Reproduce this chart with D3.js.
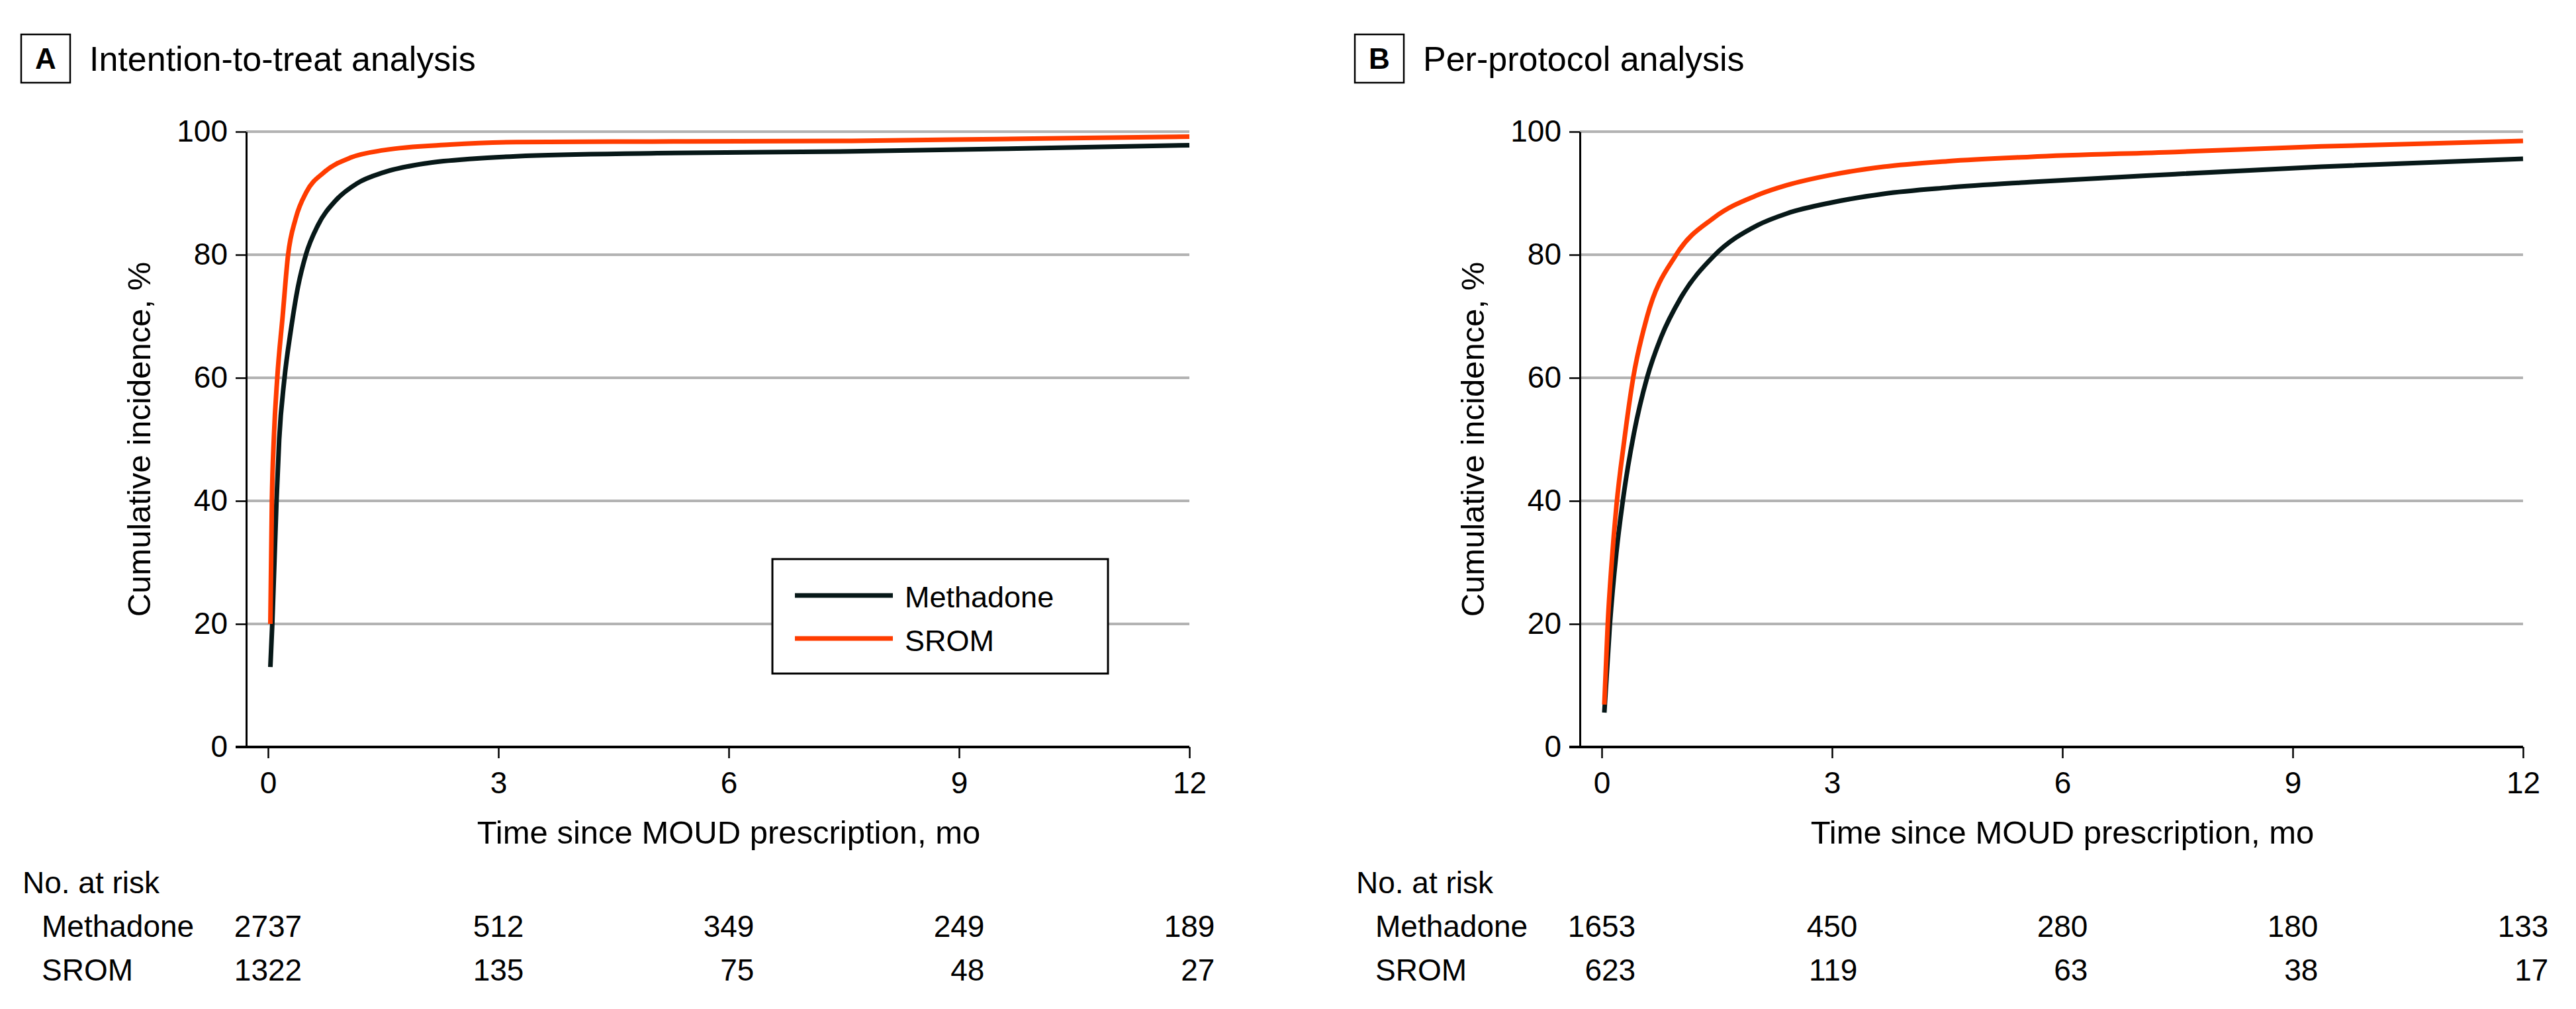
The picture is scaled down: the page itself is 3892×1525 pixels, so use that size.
<!DOCTYPE html>
<html>
<head>
<meta charset="utf-8">
<script src="https://cdn.jsdelivr.net/npm/d3@7"></script>
<style>
body { margin: 0; background: #fff; }
svg text { font-family: "Liberation Sans", Arial, sans-serif; fill: #000; }
</style>
</head>
<body>
<svg id="chart" width="3892" height="1525"></svg>
<script>
// tick labels
var xTicks = [0, 3, 6, 9, 12];
var yTicks = [0, 20, 40, 60, 80, 100];
var groups = ["Methadone", "SROM"];
var colors = ["#071818", "#ff3c00"];

// A: intention-to-treat (months, cumulative incidence %)
var ittMethTime = [0.03, 0.055, 0.11, 0.145, 0.21, 0.30, 0.39, 0.49, 0.65, 0.88, 1.16, 1.51, 2.08, 2.66, 3.23, 5.07, 7.6, 9.5, 12];
var ittMethPct = [13, 20, 40, 50, 59.5, 68, 74.8, 79.9, 84.8, 88.8, 91.6, 93.4, 94.9, 95.6, 96.0, 96.5, 96.8, 97.2, 97.8];
var ittSromTime = [0.03, 0.05, 0.075, 0.12, 0.19, 0.26, 0.36, 0.50, 0.73, 1.08, 1.51, 2.37, 3.23, 5.0, 7.6, 9.5, 12];
var ittSromPct = [20, 40, 50, 60, 70, 79.9, 85.9, 90.2, 93.4, 95.8, 97.0, 97.9, 98.3, 98.4, 98.5, 98.8, 99.2];
var ittRiskMeth = [2737, 512, 349, 249, 189];
var ittRiskSrom = [1322, 135, 75, 48, 27];

// B: per-protocol
var ppMethTime = [0.034, 0.106, 0.19, 0.28, 0.42, 0.59, 0.77, 1.03, 1.46, 2.03, 2.41, 3.0, 3.67, 4.5, 5.57, 7.47, 9.37, 12];
var ppMethPct = [5.6, 19.9, 31.5, 40.5, 51, 60, 66.5, 73, 79.8, 84.8, 86.7, 88.5, 89.9, 90.9, 91.8, 93.1, 94.3, 95.6];
var ppSromTime = [0.034, 0.078, 0.13, 0.19, 0.29, 0.41, 0.59, 0.97, 1.46, 2.03, 2.41, 3.0, 3.67, 4.5, 5.57, 7.47, 9.37, 12];
var ppSromPct = [6.9, 19.9, 30, 39, 49.5, 60, 69.9, 80, 86, 89.7, 91.3, 93.0, 94.3, 95.2, 95.9, 96.7, 97.6, 98.5];
var ppRiskMeth = [1653, 450, 280, 180, 133];
var ppRiskSrom = [623, 119, 63, 38, 17];

function zip(ts, vs) {
  return ts.map(function (t, i) { return { t: t, v: vs[i] }; });
}

var svg = d3.select("#chart");

// offsets
var axisX = 372;
var plotTop = 199;
var plotBottom = 1129;

var x = d3.scaleLinear().domain([0, 12]).range([405, 1797]);
var y = d3.scaleLinear().domain([0, 100]).range([plotBottom, plotTop]);

function drawPanel(offsetX, letter, title, series, risk, showLegend) {
  var g = svg.append("g").attr("transform", "translate(" + offsetX + ",0)");

  // panel label
  g.append("rect")
    .attr("x", 32).attr("y", 52).attr("width", 74).attr("height", 73)
    .attr("fill", "none").attr("stroke", "#000").attr("stroke-width", 2.5);
  g.append("text")
    .attr("x", 69).attr("y", 104)
    .attr("text-anchor", "middle")
    .style("font-size", "44px").style("font-weight", "bold")
    .text(letter);
  g.append("text")
    .attr("x", 135).attr("y", 107)
    .style("font-size", "52px")
    .text(title);

  // gridlines
  g.selectAll(".grid")
    .data(yTicks.filter(function (d) { return d > 0; }))
    .enter()
    .append("line")
    .attr("x1", axisX).attr("x2", x(12))
    .attr("y1", function (d) { return y(d); })
    .attr("y2", function (d) { return y(d); })
    .attr("stroke", "#b3b3b3").attr("stroke-width", 4);

  // axis y
  var yAxis = g.append("g")
    .attr("transform", "translate(" + axisX + ",0)")
    .call(d3.axisLeft(y).tickValues(yTicks).tickSize(16).tickSizeOuter(0).tickPadding(12));
  yAxis.select(".domain").attr("stroke", "#000").attr("stroke-width", 3);
  yAxis.selectAll(".tick line").attr("stroke", "#000").attr("stroke-width", 2.5);
  yAxis.selectAll(".tick text").style("font-size", "46px").attr("font-family", null);

  // axis x
  var xAxis = g.append("g")
    .attr("transform", "translate(0," + y(0) + ")")
    .call(d3.axisBottom(x).tickValues(xTicks).tickSize(17).tickSizeOuter(0).tickPadding(20));
  xAxis.select(".domain").remove();
  xAxis.selectAll(".tick line").attr("stroke", "#000").attr("stroke-width", 2.5);
  xAxis.selectAll(".tick text").style("font-size", "46px").attr("font-family", null);
  g.append("line")
    .attr("x1", axisX - 16).attr("x2", x(12))
    .attr("y1", y(0)).attr("y2", y(0))
    .attr("stroke", "#000").attr("stroke-width", 4);

  // axis titles
  g.append("text")
    .attr("transform", "translate(" + (axisX - 145) + "," + (plotTop + plotBottom) / 2 + ") rotate(-90)")
    .attr("text-anchor", "middle")
    .style("font-size", "49px")
    .text("Cumulative incidence, %");
  g.append("text")
    .attr("x", (x(0) + x(12)) / 2).attr("y", 1275)
    .attr("text-anchor", "middle")
    .style("font-size", "49px")
    .text("Time since MOUD prescription, mo");

  // curves
  var line = d3.line()
    .x(function (d) { return x(d.t); })
    .y(function (d) { return y(d.v); })
    .curve(d3.curveMonotoneX);
  g.selectAll(".curve")
    .data(series)
    .enter()
    .append("path")
    .attr("d", function (d) { return line(d); })
    .attr("fill", "none")
    .attr("stroke", function (d, i) { return colors[i]; })
    .attr("stroke-width", 7);

  // legend
  if (showLegend) {
    var lg = g.append("g");
    lg.append("rect")
      .attr("x", 1167).attr("y", 845).attr("width", 507).attr("height", 173)
      .attr("fill", "#fff").attr("stroke", "#000").attr("stroke-width", 3);
    groups.forEach(function (name, i) {
      lg.append("line")
        .attr("x1", 1201).attr("x2", 1349)
        .attr("y1", 900 + i * 65).attr("y2", 900 + i * 65)
        .attr("stroke", colors[i]).attr("stroke-width", 7);
      lg.append("text")
        .attr("x", 1367).attr("y", 918 + i * 66)
        .style("font-size", "45px")
        .text(name);
    });
  }

  // number at risk
  g.append("text")
    .attr("x", 34).attr("y", 1350)
    .style("font-size", "46px")
    .text("No. at risk");
  var rowY = [1416, 1482];
  var cells = [];
  groups.forEach(function (name, r) {
    g.append("text")
      .attr("x", 63).attr("y", rowY[r])
      .style("font-size", "46px")
      .text(name);
    risk[r].forEach(function (n, c) {
      var t = g.append("text")
        .attr("y", rowY[r])
        .attr("text-anchor", "end")
        .style("font-size", "46px")
        .text(n);
      cells.push({ node: t, col: c });
    });
  });
  // right-align each column, centred on its tick by the widest entry
  xTicks.forEach(function (tk, c) {
    var col = cells.filter(function (d) { return d.col === c; });
    var maxW = d3.max(col, function (d) { return d.node.node().getComputedTextLength(); });
    col.forEach(function (d) { d.node.attr("x", x(tk) + maxW / 2); });
  });
}

drawPanel(0, "A", "Intention-to-treat analysis",
  [zip(ittMethTime, ittMethPct), zip(ittSromTime, ittSromPct)],
  [ittRiskMeth, ittRiskSrom], true);

drawPanel(2015, "B", "Per-protocol analysis",
  [zip(ppMethTime, ppMethPct), zip(ppSromTime, ppSromPct)],
  [ppRiskMeth, ppRiskSrom], false);
</script>
</body>
</html>
